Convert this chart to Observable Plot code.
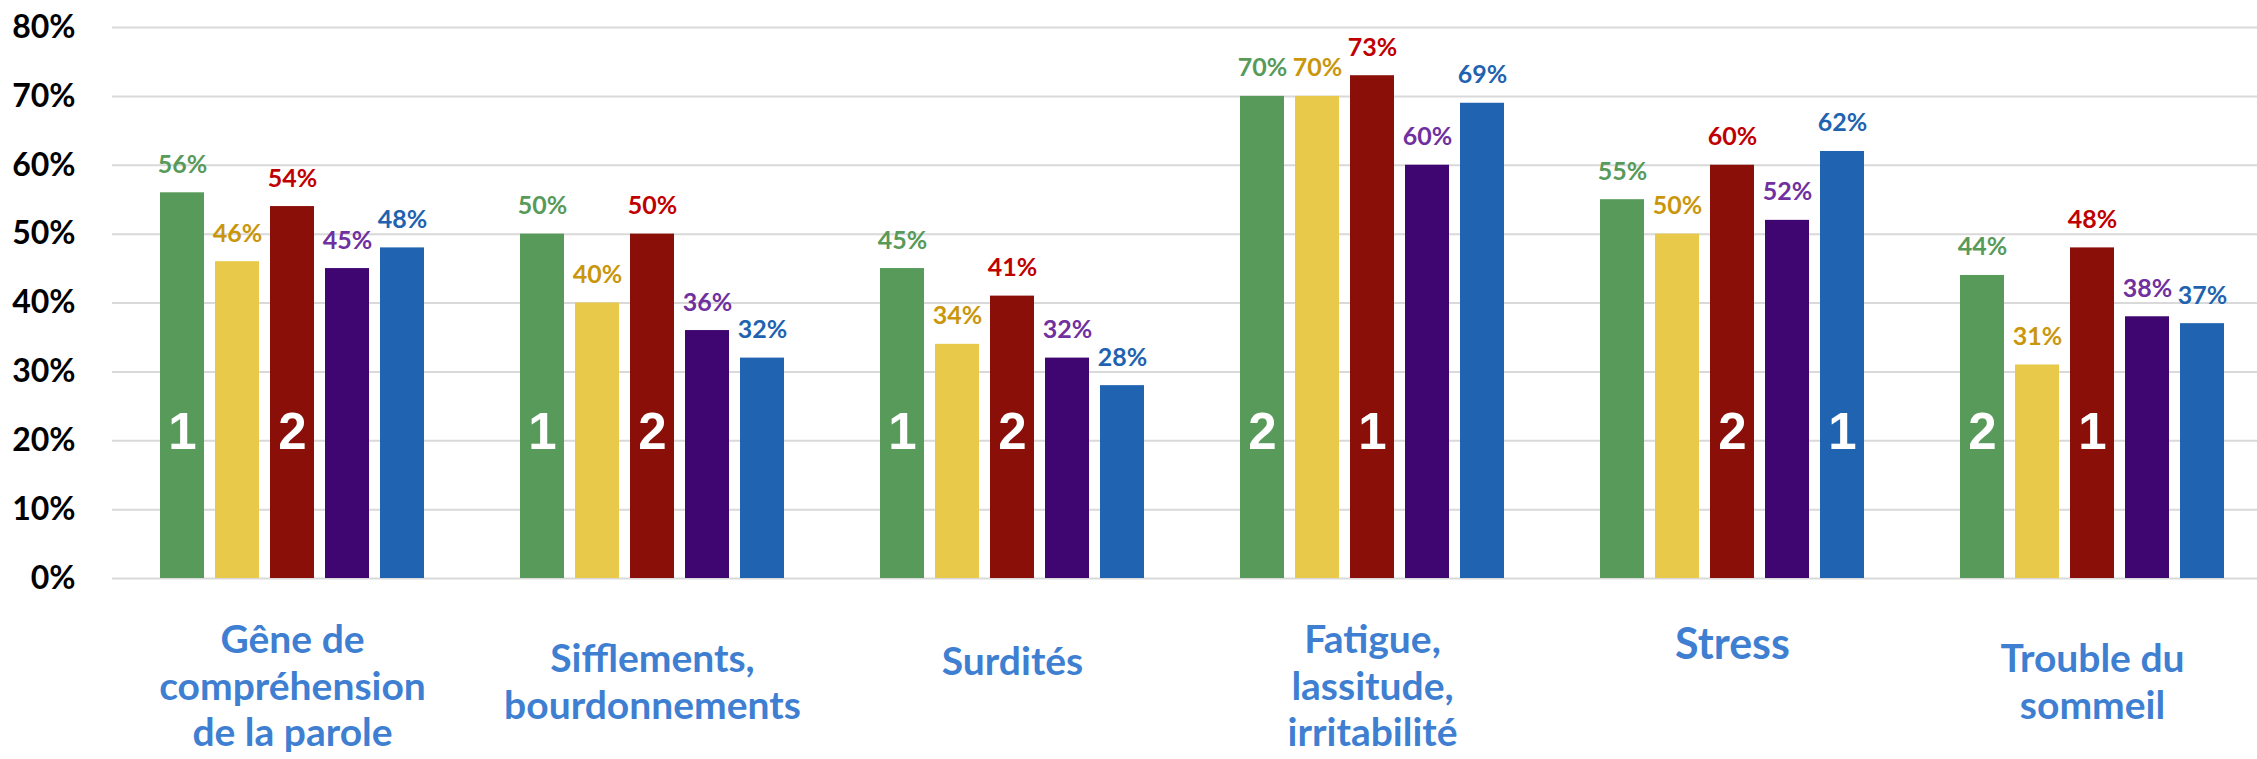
<!DOCTYPE html>
<html>
<head>
<meta charset="utf-8">
<script src="https://cdn.jsdelivr.net/npm/d3@7"></script>
<script src="https://cdn.jsdelivr.net/npm/@observablehq/plot@0.6"></script>
<style>
  html, body { margin: 0; padding: 0; background: #ffffff; }
  #chart svg { display: block; }
</style>
</head>
<body>
<div id="chart"></div>
<script>
// ---- Data ----
const categories = [
  "Gêne de\ncompréhension\nde la parole",
  "Sifflements,\nbourdonnements",
  "Surdités",
  "Fatigue,\nlassitude,\nirritabilité",
  "Stress",
  "Trouble du\nsommeil"
];
const series = ["Série 1", "Série 2", "Série 3", "Série 4", "Série 5"];
const serie1 = [56, 50, 45, 70, 55, 44];
const serie2 = [46, 40, 34, 70, 50, 31];
const serie3 = [54, 50, 41, 73, 60, 48];
const serie4 = [45, 36, 32, 60, 52, 38];
const serie5 = [48, 32, 28, 69, 62, 37];
const rank1Series = ["Série 1", "Série 1", "Série 1", "Série 3", "Série 5", "Série 3"];
const rank2Series = ["Série 3", "Série 3", "Série 3", "Série 1", "Série 3", "Série 1"];
const yTicks = [0, 10, 20, 30, 40, 50, 60, 70, 80];

// ---- Styles ----
const barColor = {
  "Série 1": "#579a5a",
  "Série 2": "#e8c94a",
  "Série 3": "#8a0f08",
  "Série 4": "#3f0672",
  "Série 5": "#2063b0"
};
const labelColor = {
  "Série 1": "#579a5a",
  "Série 2": "#c9960c",
  "Série 3": "#c00000",
  "Série 4": "#7030a0",
  "Série 5": "#1f63b0"
};
const catColor = "#3f7fd2";
const rankLevel = 0.212;

// ---- Tables ----
const valuesBySeries = [serie1, serie2, serie3, serie4, serie5];
const rows = series.flatMap((s, i) =>
  categories.map((c, j) => ({cat: c, series: s, value: valuesBySeries[i][j] / 100}))
);
const rankRows = categories.flatMap((c, j) => [
  {cat: c, series: rank1Series[j], rank: "1"},
  {cat: c, series: rank2Series[j], rank: "2"}
]);
const nLines = (d) => d.split("\n").length;

const chart = Plot.plot({
  width: 2257,
  height: 759,
  marginLeft: 112,
  marginRight: -15,
  marginTop: 27,
  marginBottom: 181,
  style: {fontFamily: "Lato, 'Open Sans', sans-serif", background: "#ffffff"},
  fx: {domain: categories, paddingInner: 0.2, paddingOuter: 0.1, axis: null, label: null},
  x: {domain: series, padding: 0.2, axis: null},
  y: {domain: [0, 0.8], axis: null},
  color: {type: "identity"},
  marks: [
    Plot.ruleY(yTicks.map(t => t / 100), {stroke: "#d9d9d9", strokeWidth: 2, insetLeft: -36, insetRight: -36}),
    Plot.barY(rows, {fx: "cat", x: "series", y: "value", fill: d => barColor[d.series]}),
    Plot.text(rows, {
      fx: "cat", x: "series", y: "value",
      text: d => Math.round(d.value * 100) + "%",
      fill: d => labelColor[d.series],
      lineAnchor: "bottom", dy: -20,
      fontSize: 25, fontWeight: 700, fontFamily: "Lato"
    }),
    Plot.text(rankRows, {
      fx: "cat", x: "series", y: () => rankLevel,
      text: "rank", fill: "#ffffff",
      lineAnchor: "middle",
      fontSize: 51, fontWeight: 700, fontFamily: "'Liberation Sans', Arial, sans-serif"
    }),
    Plot.axisY({
      ticks: yTicks.map(t => t / 100),
      tickFormat: d => Math.round(d * 100) + "%",
      tickSize: 0, tickPadding: 73, label: null,
      fontSize: 32, fontWeight: 700, fill: "#000000", fontFamily: "Lato"
    }),
    Plot.text(categories.filter(d => nLines(d) === 3), {
      fx: d => d, text: d => d, frameAnchor: "bottom", lineAnchor: "top", dy: 41,
      fontSize: 39, fontWeight: 700, fill: catColor, lineHeight: 1.2, fontFamily: "Lato"
    }),
    Plot.text(categories.filter(d => nLines(d) === 2), {
      fx: d => d, text: d => d, frameAnchor: "bottom", lineAnchor: "top", dy: 60,
      fontSize: 39, fontWeight: 700, fill: catColor, lineHeight: 1.2, fontFamily: "Lato"
    }),
    Plot.text(categories.filter(d => nLines(d) === 1 && d !== "Stress"), {
      fx: d => d, text: d => d, frameAnchor: "bottom", lineAnchor: "top", dy: 69,
      fontSize: 39, fontWeight: 700, fill: catColor, fontFamily: "Lato"
    }),
    Plot.text(categories.filter(d => d === "Stress"), {
      fx: d => d, text: d => d, frameAnchor: "bottom", lineAnchor: "top", dy: 50,
      fontSize: 43, fontWeight: 700, fill: catColor, fontFamily: "Lato"
    })
  ]
});
document.getElementById("chart").appendChild(chart);
</script>
</body>
</html>
